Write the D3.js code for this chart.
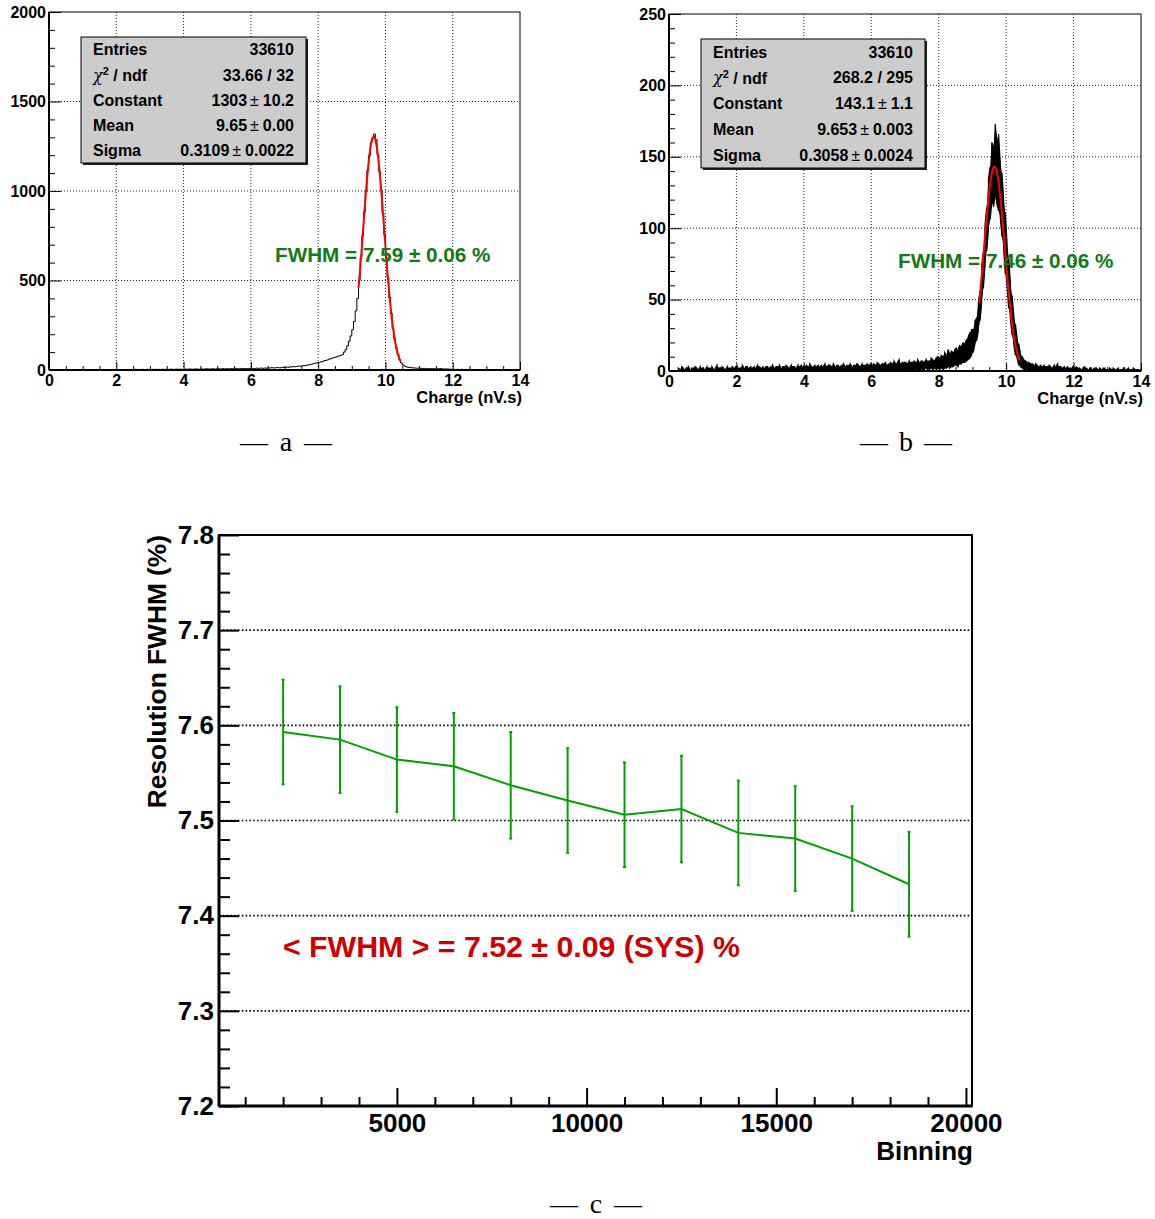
<!DOCTYPE html>
<html><head><meta charset="utf-8">
<script src="https://cdn.jsdelivr.net/npm/d3@7"></script>
<style>
body{margin:0;background:#fff}
svg text{font-family:"Liberation Sans",Arial,Helvetica,sans-serif}
</style>
</head><body>
<svg id="chart" width="1155" height="1219"></svg>
<script>
// ---------------- data ----------------
// histogram binning (nV.s)
const histLo = 0;
const histBinWidth = 0.05;
// panel a: counts per bin (0.05 nV.s bins, 0..14)
const aCounts = [
  0,0,1,0,1,1,0,1,2,1,  1,0,2,1,1,2,1,0,2,1,  1,2,1,2,1,1,2,2,1,2,  2,1,2,3,1,2,2,3,2,2,
  2,3,2,2,3,1,3,2,3,3,  2,4,3,2,3,4,3,2,4,3,  3,4,3,4,2,4,3,5,3,4,  4,3,5,4,3,5,4,4,5,3,
  4,5,4,6,5,4,5,6,5,4,  6,5,5,7,6,5,6,7,5,6,  7,6,6,8,6,7,7,6,8,7,  7,8,7,6,9,7,8,8,7,9,
  8,9,8,10,9,10,11,9,11,10,  12,11,13,12,11,14,13,12,15,14,
  15,16,15,18,17,19,18,20,22,21,  23,25,24,27,29,31,33,36,38,41,
  42,45,47,51,53,56,60,63,66,70,  72,76,78,82,85,100,114,135,161,190,
  225,270,330,400,505,628,752,884,1001,1116,
  1198,1270,1296,1318,1288,1204,1110,1006,878,758,
  628,515,404,316,232,175,121,88,57,40,
  28,22,18,15,14,13,12,11,10,10,
  9,9,8,9,8,7,8,7,8,6,  7,6,8,7,6,5,6,5,5,4,
  4,3,4,3,3,4,2,3,3,2,  3,2,2,3,2,1,2,2,1,2,  1,2,1,1,2,1,1,0,1,1,  1,0,1,1,0,1,0,1,0,0
];
// panel b: fine-binned noisy histogram, read as upper / lower envelope per 0.05 nV.s
const bHigh = [
  0,0,0,0,0,2,1,3,2,1,  2,3,1,2,2,3,2,1,3,2,  2,1,3,2,2,3,1,2,4,2,  2,3,2,1,3,2,2,3,2,3,
  3,2,2,4,2,3,3,2,3,2,  3,2,4,3,2,3,2,3,3,2,  3,4,2,3,3,4,2,3,3,4,  3,2,4,3,3,2,4,3,4,3,
  3,4,3,5,3,3,4,3,4,3,  4,3,5,3,4,4,3,5,3,4,  4,3,4,5,3,4,4,5,3,4,  4,5,4,3,5,4,4,5,4,5,
  4,5,4,6,5,4,5,5,6,4,  5,6,5,7,5,6,8,5,6,6,  6,5,7,6,6,7,6,8,6,7,  7,6,8,7,7,9,8,7,9,10,
  9,11,10,13,11,15,12,14,13,15,  16,15,18,17,20,19,22,24,27,29,
  29,35,37,48,56,74,84,103,115,134,
  143,160,157,173,161,166,146,139,121,111,
  90,80,62,53,40,33,23,19,12,10,
  8,7,6,6,5,5,4,5,4,3,  4,3,4,3,3,4,3,2,4,3,  5,3,3,2,3,2,3,2,2,3,
  2,3,2,2,1,2,3,2,1,2,  2,1,2,2,1,2,1,2,2,1,  1,2,1,2,1,1,2,1,1,2,  1,1,2,1,1,2,1,1,1,1
];
const bLow = [
  0,0,0,0,0,0,0,0,0,0,  0,0,0,0,0,0,0,0,0,0,  0,0,0,0,0,0,0,0,0,0,  0,0,0,0,0,0,0,0,0,0,
  0,0,0,0,0,0,0,0,0,0,  0,0,0,0,0,0,0,0,0,0,  0,0,0,0,0,0,0,0,0,0,  0,0,0,0,0,0,0,0,0,0,
  0,0,0,0,0,0,0,0,0,0,  0,0,0,0,0,0,0,0,0,0,  0,0,0,0,0,0,0,0,0,0,  0,0,0,1,0,0,0,0,1,0,
  0,1,0,0,1,0,0,1,0,0,  1,0,0,1,0,1,0,1,0,1,  1,0,1,1,0,1,1,1,0,1,  1,1,2,1,1,2,1,2,1,2,
  1,2,1,2,2,3,2,3,3,4,  4,3,5,5,6,6,7,8,9,11,
  13,19,21,28,35,48,58,74,84,99,
  106,118,115,122,117,112,108,94,86,68,
  60,44,37,25,19,11,9,4,3,2,
  1,1,1,0,1,0,1,0,0,1,  0,0,1,0,0,0,1,0,0,0,  1,0,0,0,0,0,1,0,0,0,
  0,0,0,0,0,0,0,0,0,0,  0,0,0,0,0,0,0,0,0,0,  0,0,0,0,0,0,0,0,0,0,  0,0,0,0,0,0,0,0,0,0
];
// gaussian fit parameters (from stats boxes) and fit ranges
const aFitParams = [1303, 9.65, 0.3109];
const aFitRange = [9.2, 10.45];
const bFitParams = [143.1, 9.653, 0.3058];
const bFitRange = [9.2, 10.4];

// stats boxes
const statLabels = ["Entries", "χ2 / ndf", "Constant", "Mean", "Sigma"];
const aStatValues = ["33610", "33.66 / 32", "1303 ± 10.2", "9.65 ± 0.00", "0.3109 ± 0.0022"];
const bStatValues = ["33610", "268.2 / 295", "143.1 ± 1.1", "9.653 ± 0.003", "0.3058 ± 0.0024"];
const aFwhmText = "FWHM = 7.59 ± 0.06 %";
const bFwhmText = "FWHM = 7.46 ± 0.06 %";

// histogram axes ticks
const chargeTicks = [0, 2, 4, 6, 8, 10, 12, 14];
const aYTicks = [0, 500, 1000, 1500, 2000];
const bYTicks = [0, 50, 100, 150, 200, 250];
const chargeLabel = "Charge (nV.s)";

// panel c
const binning = [2000, 3500, 5000, 6500, 8000, 9500, 11000, 12500, 14000, 15500, 17000, 18500];
const fwhm    = [7.593, 7.585, 7.564, 7.557, 7.537, 7.521, 7.506, 7.512, 7.487, 7.481, 7.460, 7.433];
const fwhmErr = [0.055, 0.056, 0.055, 0.056, 0.056, 0.055, 0.055, 0.056, 0.055, 0.055, 0.055, 0.055];
const binningTicks = [5000, 10000, 15000, 20000];
const fwhmTicks = [7.2, 7.3, 7.4, 7.5, 7.6, 7.7, 7.8];
const cXLabel = "Binning";
const cYLabel = "Resolution FWHM (%)";
const cSummary = "< FWHM > = 7.52 ± 0.09 (SYS) %";
const captions = ["a", "b", "c"];

// ---------------- drawing ----------------
const svg = d3.select("#chart");
svg.append("rect").attr("width", 1155).attr("height", 1219).attr("fill", "#fff");

function styleAxis(g, size) {
  g.attr("font-size", size).attr("font-family", '"Liberation Sans",Arial,sans-serif')
   .attr("font-weight", "bold");
  g.select(".domain").remove();
  g.selectAll("text").attr("fill", "#000");
}

function histPanel(o) {
  const x = d3.scaleLinear().domain([0, 14]).range([o.left, o.right]);
  const y = d3.scaleLinear().domain([0, o.yMax]).range([o.bottom, o.top]);
  const g = svg.append("g");

  // grid
  const grid = g.append("g").attr("stroke", "#222").attr("stroke-width", 1)
    .attr("stroke-dasharray", "1,2");
  chargeTicks.filter(t => t > 0 && t < 14).forEach(t => {
    grid.append("line").attr("x1", x(t)).attr("x2", x(t)).attr("y1", o.top).attr("y2", o.bottom);
  });
  o.yTicks.filter(t => t > 0 && t < o.yMax).forEach(t => {
    grid.append("line").attr("x1", o.left).attr("x2", o.right).attr("y1", y(t)).attr("y2", y(t));
  });

  // data
  o.drawData(g, x, y);

  // fit
  const [c, m, s] = o.fit;
  const fx = d3.range(o.fitRange[0], o.fitRange[1] + 1e-9, 0.005);
  g.append("path")
    .attr("d", d3.line().x(d => x(d)).y(d => y(c * Math.exp(-0.5 * ((d - m) / s) ** 2)))(fx))
    .attr("fill", "none").attr("stroke", "#ff0000").attr("stroke-width", 2);

  // frame
  g.append("rect").attr("x", o.left).attr("y", o.top)
    .attr("width", o.right - o.left).attr("height", o.bottom - o.top)
    .attr("fill", "none").attr("stroke", "#000").attr("stroke-width", 1);
  g.append("line").attr("x1", o.left).attr("x2", o.right).attr("y1", o.bottom).attr("y2", o.bottom)
    .attr("stroke", "#000").attr("stroke-width", 2);
  g.append("line").attr("x1", o.left).attr("x2", o.left).attr("y1", o.top).attr("y2", o.bottom)
    .attr("stroke", "#000").attr("stroke-width", 2);

  // axes
  const xa = g.append("g").attr("transform", `translate(0,${o.bottom})`)
    .call(d3.axisBottom(x).tickValues(chargeTicks).tickSizeInner(-8).tickSizeOuter(0).tickPadding(5)
      .tickFormat(d3.format("d")));
  styleAxis(xa, 16);
  const xm = g.append("g").attr("transform", `translate(0,${o.bottom})`)
    .call(d3.axisBottom(x).tickValues(d3.range(0.5, 14, 0.5).filter(v => v % 2 !== 0))
      .tickSizeInner(-4).tickSizeOuter(0).tickFormat(""));
  xm.select(".domain").remove();
  const ya = g.append("g").attr("transform", `translate(${o.left},0)`)
    .call(d3.axisLeft(y).tickValues(o.yTicks).tickSizeInner(-12).tickSizeOuter(0).tickPadding(3)
      .tickFormat(d3.format("d")));
  styleAxis(ya, 16);
  const ym = g.append("g").attr("transform", `translate(${o.left},0)`)
    .call(d3.axisLeft(y).tickValues(d3.range(0, o.yMax, o.yMinor).filter(v => v % o.yMajor !== 0))
      .tickSizeInner(-6).tickSizeOuter(0).tickFormat(""));
  ym.select(".domain").remove();

  g.append("text").attr("x", o.right + 2).attr("y", o.bottom + 33).attr("text-anchor", "end")
    .attr("font-size", 16.5).attr("font-weight", "bold").text(chargeLabel);

  // stats box
  const bx = o.box;
  g.append("rect").attr("x", bx.x + 2).attr("y", bx.y + 2).attr("width", bx.w).attr("height", bx.h)
    .attr("fill", "#222");
  g.append("rect").attr("x", bx.x).attr("y", bx.y).attr("width", bx.w).attr("height", bx.h)
    .attr("fill", "#cccccc").attr("stroke", "#000").attr("stroke-width", 1);
  statLabels.forEach((lab, i) => {
    const cy = bx.y + bx.h * (0.1 + 0.2 * i);
    const t = g.append("text").attr("x", bx.x + 12).attr("y", cy).attr("dy", "0.36em")
      .attr("font-size", 16).attr("font-weight", "bold");
    if (lab.startsWith("χ")) {
      t.append("tspan").attr("font-family", '"DejaVu Serif",serif').attr("font-weight", "normal")
        .attr("font-style", "italic").attr("font-size", 16).text("χ");
      t.append("tspan").attr("font-size", 11).attr("dy", "-0.5em").text("2");
      t.append("tspan").attr("dy", "0.35em").text(" " + lab.slice(lab.indexOf("/")));
    } else {
      t.text(lab);
    }
    const v = o.stats[i];
    const vt = g.append("text").attr("x", bx.x + bx.w - 12).attr("y", cy).attr("dy", "0.36em")
      .attr("text-anchor", "end").attr("font-size", 16).attr("font-weight", "bold");
    if (v.includes("±")) {
      const parts = v.split("±");
      vt.append("tspan").text(parts[0].trim());
      vt.append("tspan").attr("font-weight", "normal").attr("dx", 3).text("±");
      vt.append("tspan").attr("dx", 4).text(parts[1].trim());
    } else {
      vt.text(v);
    }
  });

  // FWHM label
  g.append("text").attr("x", o.fwhmPos[0]).attr("y", o.fwhmPos[1])
    .attr("font-size", 20.7).attr("font-weight", "bold").attr("fill", "#127a12").text(o.fwhm);
}

// panel a
histPanel({
  left: 49, right: 520, top: 12, bottom: 370, yMax: 2000, yTicks: aYTicks, yMajor: 500, yMinor: 100,
  fit: aFitParams, fitRange: aFitRange,
  box: {x: 81, y: 37, w: 225, h: 126}, stats: aStatValues,
  fwhm: aFwhmText, fwhmPos: [275, 262],
  drawData: (g, x, y) => {
    const pts = aCounts.map((c, i) => [histLo + i * histBinWidth, c]);
    pts.push([histLo + aCounts.length * histBinWidth, aCounts[aCounts.length - 1]]);
    g.append("path").attr("d", d3.line().curve(d3.curveStepAfter).x(d => x(d[0])).y(d => y(d[1]))(pts))
      .attr("fill", "none").attr("stroke", "#000").attr("stroke-width", 1);
  }
});

// panel b
histPanel({
  left: 669, right: 1141, top: 14, bottom: 371, yMax: 250, yTicks: bYTicks, yMajor: 50, yMinor: 10,
  fit: bFitParams, fitRange: bFitRange,
  box: {x: 701, y: 39, w: 224, h: 129}, stats: bStatValues,
  fwhm: bFwhmText, fwhmPos: [898, 268],
  drawData: (g, x, y) => {
    const centers = bHigh.map((_, i) => histLo + (i + 0.5) * histBinWidth);
    const startIdx = 5;
    const idx = d3.range(startIdx, bHigh.length);
    g.append("path")
      .attr("d", d3.area().x(i => x(centers[i])).y0(i => y(bLow[i])).y1(i => y(bHigh[i]))(idx))
      .attr("fill", "#000");
    const zz = [];
    idx.forEach((i, k) => {
      if (k % 2 === 0) { zz.push([centers[i], bLow[i]]); zz.push([centers[i], bHigh[i]]); }
      else { zz.push([centers[i], bHigh[i]]); zz.push([centers[i], bLow[i]]); }
    });
    g.append("path").attr("d", d3.line().x(d => x(d[0])).y(d => y(d[1]))(zz))
      .attr("fill", "none").attr("stroke", "#000").attr("stroke-width", 1.2);
  }
});

// panel c
(function () {
  const L = 219, R = 972, T = 535, B = 1106;
  const x = d3.scaleLinear().domain([310, 20160]).range([L, R]);
  const y = d3.scaleLinear().domain([7.2, 7.8]).range([B, T]);
  const g = svg.append("g");

  const grid = g.append("g").attr("stroke", "#000").attr("stroke-width", 1.6)
    .attr("stroke-dasharray", "1.6,2.2");
  fwhmTicks.filter(t => t > 7.2 && t < 7.8).forEach(t => {
    grid.append("line").attr("x1", L).attr("x2", R).attr("y1", y(t)).attr("y2", y(t));
  });

  // frame
  g.append("rect").attr("x", L).attr("y", T).attr("width", R - L).attr("height", B - T)
    .attr("fill", "none").attr("stroke", "#000").attr("stroke-width", 2);
  g.append("line").attr("x1", L).attr("x2", R).attr("y1", B).attr("y2", B)
    .attr("stroke", "#000").attr("stroke-width", 3);
  g.append("line").attr("x1", L).attr("x2", L).attr("y1", T).attr("y2", B)
    .attr("stroke", "#000").attr("stroke-width", 3);

  const xa = g.append("g").attr("transform", `translate(0,${B})`)
    .call(d3.axisBottom(x).tickValues(binningTicks).tickSizeInner(-18).tickSizeOuter(0).tickPadding(8)
      .tickFormat(d3.format("d")));
  styleAxis(xa, 26);
  xa.selectAll("line").attr("stroke-width", 2);
  const xm = g.append("g").attr("transform", `translate(0,${B})`)
    .call(d3.axisBottom(x).tickValues(d3.range(1000, 20001, 1000).filter(v => v % 5000 !== 0))
      .tickSizeInner(-9).tickSizeOuter(0).tickFormat(""));
  xm.select(".domain").remove();
  xm.selectAll("line").attr("stroke-width", 2);

  const ya = g.append("g").attr("transform", `translate(${L},0)`)
    .call(d3.axisLeft(y).tickValues(fwhmTicks).tickSizeInner(-20).tickSizeOuter(0).tickPadding(5)
      .tickFormat(d3.format(".1f")));
  styleAxis(ya, 26);
  ya.selectAll("line").attr("stroke-width", 2);
  const ym = g.append("g").attr("transform", `translate(${L},0)`)
    .call(d3.axisLeft(y).tickValues(d3.range(0, 30).map(i => 7.2 + i * 0.02).filter(v => Math.abs(v * 10 - Math.round(v * 10)) > 1e-6))
      .tickSizeInner(-11).tickSizeOuter(0).tickFormat(""));
  ym.select(".domain").remove();
  ym.selectAll("line").attr("stroke-width", 2);

  g.append("text").attr("x", R + 1).attr("y", 1160).attr("text-anchor", "end")
    .attr("font-size", 26).attr("font-weight", "bold").text(cXLabel);
  g.append("text").attr("transform", `translate(166,${T}) rotate(-90)`).attr("text-anchor", "end")
    .attr("font-size", 26.3).attr("font-weight", "bold").text(cYLabel);

  const green = "#00a000";
  const data = binning.map((b, i) => ({b, v: fwhm[i], e: fwhmErr[i]}));
  g.append("path").attr("d", d3.line().x(d => x(d.b)).y(d => y(d.v))(data))
    .attr("fill", "none").attr("stroke", green).attr("stroke-width", 2);
  const eb = g.append("g").attr("stroke", green).attr("stroke-width", 2);
  data.forEach(d => {
    eb.append("line").attr("x1", x(d.b)).attr("x2", x(d.b)).attr("y1", y(d.v - d.e)).attr("y2", y(d.v + d.e));
    eb.append("line").attr("x1", x(d.b) - 1.5).attr("x2", x(d.b) + 1.5).attr("y1", y(d.v - d.e)).attr("y2", y(d.v - d.e));
    eb.append("line").attr("x1", x(d.b) - 1.5).attr("x2", x(d.b) + 1.5).attr("y1", y(d.v + d.e)).attr("y2", y(d.v + d.e));
  });

  g.append("text").attr("x", 283).attr("y", 957).attr("font-size", 30.3).attr("font-weight", "bold")
    .attr("fill", "#cc0000").text(cSummary);
})();

// captions
const capPos = [[286, 451], [906, 451], [596, 1213]];
captions.forEach((c, i) => {
  const [cx, by] = capPos[i];
  const t = svg.append("g").attr("font-size", 28).attr("fill", "#000");
  t.append("text").attr("x", cx - 32).attr("y", by).attr("text-anchor", "middle")
    .style("font-family", '"Liberation Serif",serif').text("—");
  t.append("text").attr("x", cx).attr("y", by).attr("text-anchor", "middle")
    .style("font-family", '"Liberation Serif",serif').text(c);
  t.append("text").attr("x", cx + 32).attr("y", by).attr("text-anchor", "middle")
    .style("font-family", '"Liberation Serif",serif').text("—");
});
</script>
</body></html>
